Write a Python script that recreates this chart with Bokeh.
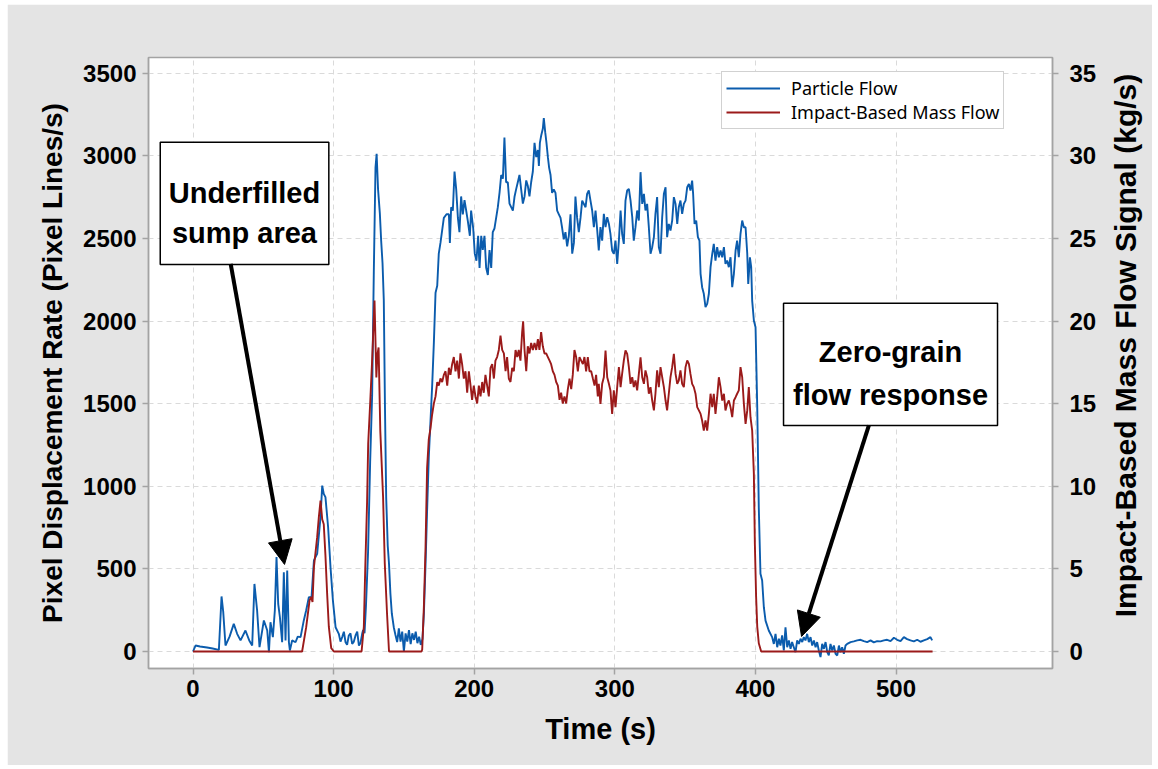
import math
from bokeh.plotting import figure
from bokeh.models import Range1d, LinearAxis, FixedTicker, BoxAnnotation, Arrow, NormalHead, Label, Spacer
from bokeh.layouts import column, row
from bokeh.embed import file_html
from bokeh.resources import INLINE

# ---------------- data ----------------
particle_t = [
    0, 1.8, 5, 10, 14, 18.4, 20.3, 21.5, 23.1, 26, 29.0, 31.4, 33.8, 37.3, 40, 42.1, 43.7, 45.6, 47.3,
    50.4, 52.8, 54.0, 55.1, 56.8, 58.2, 59.4, 60.6, 61.8, 63.4, 64.6, 65.8, 67.0, 68.2, 68.9, 70.5,
    72.9, 74.5, 76.5, 78.8, 80.5, 82.4, 84.3, 86.0, 88.3, 90.7, 91.9, 93.0, 94.2, 96.1, 97.8, 99.5,
    101.4, 103.7, 104.9, 106.1, 107.3, 108.5, 109.6, 110.8, 112.0, 113.2, 114.4, 115.6, 116.8, 118.0,
    119.1, 120.3, 121.0, 122.0,
    123.0, 124.5, 126.0, 127.4, 128.6, 129.8, 130.6, 131.6, 132.9, 133.8, 134.8, 135.7, 136.5, 137.4,
    138.5, 139.4, 140.4, 141.4, 142.8, 144.0, 145.2, 146.4, 147.6, 148.8, 150.0, 151.2, 152.4, 153.6,
    154.8, 156.0, 157.2, 158.4, 159.6, 160.8, 162.0, 163.2,
    164.2, 165.4, 166.5, 167.7, 168.9, 170.1, 171.3, 172.5, 173.7, 174.8, 176.0, 178.4, 180.3, 182.0,
    182.7, 183.6, 184.8, 186.0, 187.2, 188.4, 189.5, 190.7, 191.9, 193.1, 194.3, 195.5, 196.9, 197.8,
    199.3, 200.4, 201.6, 202.8, 203.8, 205.0, 206.1, 207.3, 208.5, 209.7, 210.9, 212.1, 213.2, 214.4,
    215.6, 216.8, 218.0, 219.2, 220.4, 221.5, 222.7, 223.9, 225.1, 226.3, 227.5, 228.7, 229.8, 231.0,
    232.2, 233.4, 234.6, 235.8, 237.0, 238.1, 239.3, 240.5, 241.7, 242.9, 244.1, 245.3, 246.0, 246.7,
    247.6, 248.8, 249.5, 250.5, 251.4, 252.4, 253.3, 254.3, 255.4, 256.6, 257.8, 259.0, 260.2, 261.4,
    262.6, 263.7, 264.9, 266.1, 267.3, 268.5, 269.7, 270.9, 272.0, 273.2, 274.4, 275.6,
    276.8, 279.2, 280.3, 281.5, 282.7, 283.9, 285.1, 286.3, 287.5, 288.6, 289.8, 291.0, 292.2, 293.4,
    294.6, 295.8, 296.9, 298.1, 299.3, 300.5, 301.7, 302.9, 304.1, 305.2, 306.4, 307.6, 308.8, 310.0,
    311.2, 312.4, 313.5, 314.7, 315.9, 317.1, 318.3, 319.5, 320.7, 321.8, 323.0, 324.2, 325.4, 326.6,
    327.8, 328.9, 330.1, 331.3, 332.5, 333.7, 334.9, 336.1, 337.2, 338.4, 339.6, 340.8, 342.0, 343.2,
    344.4, 345.5, 346.7, 347.9, 349.1, 350.3, 351.5, 352.7, 353.8, 355.0, 355.7, 356.7, 357.9, 359.1,
    360.2, 361.0, 362.1, 363.3, 364.5, 365.7, 366.9, 368.1, 369.3, 370.4, 371.6, 372.8, 374.0, 375.2,
    376.4, 377.6, 378.7, 379.9, 381.1, 382.3, 383.5, 384.7, 385.9, 387.0, 388.2, 389.4, 390.6, 391.8,
    393.0, 394.2, 394.9, 396.1, 397.0, 397.7, 398.9, 400.1, 401.3, 402.4, 403.6, 404.8, 406.0, 407.2,
    409.5,
    411.9, 413.1, 414.3, 415.5, 416.7, 417.8, 419.0, 420.2, 421.4, 422.6, 423.8, 425.0, 426.1, 427.3,
    428.5, 429.7, 430.9, 432.1, 433.3, 434.4, 435.6, 436.8, 438.0, 439.2, 440.4, 441.6, 442.8, 443.9,
    445.1, 446.3, 447.5, 448.7, 449.9, 451.1, 452.2, 453.4, 454.6, 455.8, 457.0, 458.2, 459.4, 460.5,
    461.7, 462.9, 464.1, 465.3, 467.7, 470.0, 472.4, 474.8, 477.1, 479.5, 481.9, 484.2, 486.6, 489.0,
    491.4, 493.7, 496.1, 498.5, 500.8, 503.2, 505.6, 507.9, 510.3, 512.7, 515.1, 517.4, 519.8, 522.2,
    524.5, 525.7,
]
particle_rate = [
    0, 36, 30, 24, 18, 10, 333, 240, 36, 90, 167, 107, 67, 127, 67, 36, 409, 248, 26,
    188, 127, -4, 177, 87, 248, 571, 288, 208, 56, 480, 67, 490, 56, 6, 67,
    56, 90, 87, 188, 250, 329, 329, 551, 591, 813, 1004, 954, 934, 752, 510, 309,
    147, 107, 60, 87, 120, 56, 40, 97, 110, 46, 60, 97, 120, 36,
    50, 107, 130, 111,
    272, 600, 1150, 1550, 2300, 2931, 3012, 2800, 2650, 2490, 2350, 2124, 1500, 932,
    640, 532, 350, 230, 147, 100, 57, 140, 60, 120, 0, 110, 60, 130,
    45, 110, 70, 120, 50, 90, 40, 75,
    227, 529, 853, 1177, 1393, 1609, 1868, 2171, 2214, 2408, 2473, 2624, 2646, 2646,
    2473, 2689, 2668, 2905, 2797, 2624, 2538, 2754, 2646, 2732, 2668, 2603, 2516, 2668,
    2560, 2408, 2365, 2516, 2322, 2516, 2430, 2516, 2322, 2279, 2430, 2322, 2538, 2560,
    2624, 2689, 2776, 2884, 2862, 3110, 2840, 2840, 2711, 2689, 2668, 2754, 2797, 2840,
    2884, 2797, 2711, 2754, 2851, 2819, 2754, 2840, 2905, 3078, 2992, 3035, 2938, 3078,
    3121, 3164, 3229, 3143, 3078, 2992, 2927, 2884, 2776, 2797, 2776, 2668, 2646, 2624,
    2560, 2495, 2538, 2452, 2516, 2646, 2408, 2473, 2754, 2624, 2538, 2624,
    2729, 2689, 2770, 2790, 2729, 2669, 2568, 2669, 2548, 2427, 2568, 2487, 2649, 2568,
    2629, 2588, 2528, 2427, 2407, 2487, 2346, 2487, 2669, 2528, 2467, 2729, 2790, 2800,
    2729, 2629, 2487, 2568, 2669, 2608, 2901, 2709, 2770, 2669, 2709, 2568, 2407, 2447,
    2508, 2649, 2750, 2447, 2407, 2629, 2770, 2810, 2508, 2588, 2548, 2608, 2750, 2709,
    2588, 2689, 2729, 2649, 2709, 2729, 2810, 2830, 2790, 2850, 2770, 2588, 2608, 2508,
    2487, 2286, 2205, 2165, 2084, 2104, 2165, 2326, 2407, 2467, 2366, 2447, 2386, 2427,
    2386, 2447, 2346, 2366, 2326, 2386, 2205, 2286, 2427, 2487, 2386, 2528, 2608, 2568,
    2568, 2407, 2225, 2386, 2326, 2124, 2003, 1963, 1479, 873, 470, 430, 268, 187,
    127,
    87, 46, 107, 26, 77, 36, 97, 6, 147, 26, 67, 16, 57, 26,
    -4, 67, 46, 77, 57, 87, 67, 107, 57, 87, 36, 67, 26, 57,
    6, -34, 46, 16, 57, -4, -24, 46, 6, 36, -14, -24, 36, -4,
    26, -14, 36, 46, 57, 61, 67, 71, 63, 57, 67, 55, 63, 61,
    67, 71, 63, 83, 71, 63, 87, 75, 67, 61, 71, 59, 67, 75,
    87, 67,
]

mass_t = [
    0, 77.6, 80.5, 82.9, 84.0, 85.0, 86.0, 88.3, 89.5, 90.7, 91.9, 93.0, 94.2, 95.4, 96.6, 98.3, 100.2,
    119.9, 121.5, 122.5, 123.8, 124.6, 126.0, 127.3, 129.1, 130.4, 131.2, 132.0, 133.2, 135.2, 136.4,
    138.0, 139.4, 162.5,
    163.0, 164.2, 165.4, 166.5, 167.7, 168.9, 170.1, 171.3, 172.5, 173.7, 174.8, 176.0, 177.2, 178.4,
    179.6, 180.8, 182.0, 183.1, 184.3, 185.5, 186.7, 187.9, 189.1, 190.2, 191.4, 192.6, 193.8, 195.0,
    196.2, 197.4, 198.5, 199.7, 200.9, 202.1, 203.3, 204.5, 205.7, 206.8, 208.0, 209.2, 210.4, 211.6,
    212.8, 214.0, 215.1, 216.3, 217.5, 218.7, 219.9, 221.1, 222.3, 223.4, 224.6, 225.8, 227.0, 228.2,
    229.4, 230.6, 231.7, 232.9, 234.1, 234.8, 235.8, 237.0, 238.1, 239.3, 240.5, 241.7, 242.9, 244.1,
    245.3, 246.4, 247.6, 248.8, 250.0, 251.2, 252.4, 253.6, 254.7, 255.9, 257.1, 258.3, 259.5, 260.7,
    261.8, 263.0, 264.2, 265.4, 266.6, 267.8, 269.0, 270.1, 271.3, 272.5, 273.7, 274.9, 276.1, 277.3,
    278.4, 279.6, 280.8, 282.0, 283.2, 284.4, 285.6, 286.7, 287.9,
    288.6, 289.8, 291.0, 292.2, 293.4, 294.6, 295.8, 296.9, 298.1, 299.3, 300.5, 301.7, 302.9, 304.1,
    305.2, 306.4, 307.6, 308.8, 310.0, 311.2, 312.4, 313.5, 314.7, 315.9, 317.1, 318.3, 319.5, 320.7,
    321.8, 323.0, 324.2, 325.4, 326.6, 327.8, 328.9, 330.1, 331.3, 332.5, 333.7, 334.9, 336.1, 337.2,
    338.4, 339.6, 340.8, 342.0, 343.2, 344.4, 345.5, 346.7, 347.9, 349.1, 350.3, 351.5, 352.7, 353.8,
    355.0, 356.2, 357.4, 358.6, 359.8, 361.0, 362.1, 363.3, 364.5, 365.7, 366.9, 368.1, 369.3, 370.4,
    371.6, 372.8, 374.0, 375.2, 376.4, 377.6, 378.7, 379.9, 381.1, 382.3, 383.5, 384.7, 385.9, 387.0,
    388.2, 389.4, 390.6, 391.8, 393.0, 394.2, 395.3, 396.5, 397.7, 398.9, 399.6, 400.5, 401.3, 402.4,
    404.1, 526.0,
]
mass_flow = [
    0, 0, 1.47, 3.09, 3.30, 3.00, 5.10, 6.92, 8.13, 9.14, 8.00, 7.70, 5.80, 3.50, 1.50, 0.20, 0,
    0, 1.50, 5.00, 9.00, 12.59, 15.00, 17.43, 21.24, 16.58, 18.00, 18.40, 13.37, 9.32, 5.32,
    2.30, 0, 0,
    0.11, 2.70, 6.37, 11.12, 12.85, 13.50, 14.36, 15.01, 15.44, 16.31, 16.09, 16.52, 16.31, 16.74,
    16.96, 16.09, 17.17, 16.74, 17.39, 17.82, 16.96, 17.60, 16.52, 18.04, 17.39, 16.52, 16.96, 15.66,
    16.96, 16.09, 15.23, 16.09, 15.44, 15.01, 16.09, 15.44, 16.31, 15.66, 16.74, 16.09, 15.44, 17.17,
    17.39, 16.52, 17.60, 17.82, 18.25, 19.12, 18.25, 18.04, 16.96, 17.82, 16.52, 16.31, 17.17, 16.96,
    18.25, 17.82, 18.25, 17.60, 19.33, 19.98, 18.25, 16.96, 18.47, 18.04, 18.68, 18.25, 18.68, 18.25,
    18.90, 18.25, 19.33, 18.47, 18.04, 18.04, 17.82, 17.60, 17.39, 16.96, 16.74, 16.31, 16.09, 15.23,
    15.66, 15.01, 15.44, 15.01, 15.88, 16.52, 15.88, 16.74, 18.25, 17.82, 16.96, 17.82, 17.60, 17.39,
    17.82, 16.96, 17.82, 16.96, 16.96, 16.52, 16.09, 16.74, 15.44,
    16.20, 14.99, 16.20, 16.60, 18.22, 16.60, 16.20, 15.80, 14.38, 15.80, 14.79, 16.00, 17.21, 16.00,
    16.80, 17.61, 18.22, 18.01, 17.21, 16.20, 16.60, 16.00, 16.40, 15.80, 16.80, 17.81, 16.60, 16.20,
    17.01, 16.60, 15.60, 16.00, 15.19, 14.59, 15.60, 17.01, 16.00, 17.21, 16.60, 16.00, 15.19, 14.59,
    15.60, 16.60, 17.21, 18.01, 16.80, 16.20, 16.40, 17.01, 16.20, 16.00, 17.21, 17.61, 17.41, 16.80,
    16.20, 16.00, 15.60, 14.79, 14.59, 14.38, 13.98, 13.37, 13.98, 13.37, 14.38, 15.60, 14.79, 15.60,
    14.38, 15.39, 16.60, 16.00, 15.19, 15.60, 14.59, 14.99, 15.19, 14.79, 14.18, 15.19, 15.39, 15.60,
    15.80, 17.21, 16.60, 14.99, 13.78, 14.59, 16.00, 14.18, 13.37, 10.75, 6.54, 3.31, 1.51, 0.50,
    0, 0,
]

x_ticks = [0, 100, 200, 300, 400, 500]
left_ticks = [0, 500, 1000, 1500, 2000, 2500, 3000, 3500]
right_ticks = [0, 5, 10, 15, 20, 25, 30, 35]

series_names = ["Particle Flow", "Impact-Based Mass Flow"]
x_title = "Time (s)"
left_title = "Pixel Displacement Rate (Pixel Lines/s)"
right_title = "Impact-Based Mass Flow Signal (kg/s)"

# annotation geometry (data units of the left axis)
box1 = dict(left=-23.3, right=96.6, bottom=2342, top=3082)
box1_lines = [("Underfilled", 36.6, 2774), ("sump area", 36.6, 2530)]
arrow1 = dict(x_start=26.8, y_start=2346, x_end=65.1, y_end=527)
box2 = dict(left=420.0, right=572.2, bottom=1368, top=2108)
box2_lines = [("Zero-grain", 496.1, 1810), ("flow response", 496.1, 1555)]
arrow2 = dict(x_start=480.7, y_start=1368, x_end=432.8, y_end=91)
right_title_pos = (663.2, 1852)

# ---------------- styling ----------------
BG = "#e4e4e4"
BLUE = "#0b5cad"
RED = "#9b1a1a"
FRAME = "#a3a3a3"
GRID = "#dadada"
BOLD_FONT = "Liberation Sans"

p = figure(width=1145, height=761, output_backend="svg", toolbar_location=None,
           x_range=Range1d(-31.65, 611.3), y_range=Range1d(-102.9, 3595),
           min_border_left=141, min_border_right=100, min_border_top=53, min_border_bottom=97,
           background_fill_color="white", border_fill_color=BG,
           outline_line_color=FRAME, outline_line_width=1.5)
p.extra_y_ranges = {"mass": Range1d(-1.029, 35.95)}

right_axis = LinearAxis(y_range_name="mass")
p.add_layout(right_axis, "right")

p.xaxis.ticker = FixedTicker(ticks=x_ticks)
p.yaxis[0].ticker = FixedTicker(ticks=left_ticks)
right_axis.ticker = FixedTicker(ticks=right_ticks)

for ax in [p.xaxis[0], p.yaxis[0], right_axis]:
    ax.axis_line_color = FRAME
    ax.axis_line_width = 1.5
    ax.major_tick_line_color = FRAME
    ax.major_tick_line_width = 1.5
    ax.major_tick_out = 6
    ax.major_tick_in = 0
    ax.minor_tick_line_color = None
    ax.major_label_text_font = BOLD_FONT
    ax.major_label_text_font_style = "bold"
    ax.major_label_text_font_size = "24px"
    ax.major_label_text_color = "black"
    ax.axis_label_text_font = BOLD_FONT
    ax.axis_label_text_font_style = "bold"
    ax.axis_label_text_color = "black"

p.xaxis[0].axis_label = x_title
p.xaxis[0].axis_label_text_font_size = "29px"
p.xaxis[0].major_label_standoff = 5
p.xaxis[0].axis_label_standoff = 13

p.yaxis[0].axis_label = left_title
p.yaxis[0].axis_label_text_font_size = "28px"
p.yaxis[0].major_label_standoff = 6
p.yaxis[0].axis_label_standoff = 12

right_axis.major_label_standoff = 11

# right-hand title, reading bottom-to-top like the left one (placed in the right side panel so it is not clipped)
p.add_layout(Label(x=right_title_pos[0], y=right_title_pos[1], text=right_title, angle=math.pi / 2,
                   text_align="center", text_baseline="middle", text_font=BOLD_FONT,
                   text_font_style="bold", text_font_size="30px", text_color="black"), "right")

p.xgrid.ticker = FixedTicker(ticks=x_ticks)
p.ygrid.ticker = FixedTicker(ticks=left_ticks)
for g in [p.xgrid[0], p.ygrid[0]]:
    g.grid_line_color = GRID
    g.grid_line_dash = "5 4"
    g.grid_line_width = 1

p.line(particle_t, particle_rate, line_color=BLUE, line_width=1.9, legend_label=series_names[0])
p.line(mass_t, mass_flow, y_range_name="mass", line_color=RED, line_width=1.9, legend_label=series_names[1])

lg = p.legend[0]
lg.location = (573, 539)
lg.border_line_color = FRAME
lg.border_line_width = 1.5
lg.background_fill_color = "white"
lg.background_fill_alpha = 1
lg.label_text_font = "Noto Sans"
lg.label_text_font_size = "18px"
lg.label_text_color = "black"
lg.glyph_width = 54
lg.glyph_height = 20
lg.label_height = 20
lg.label_standoff = 11
lg.padding = 4
lg.spacing = 0
lg.margin = 0

for box, lines, arr in [(box1, box1_lines, arrow1), (box2, box2_lines, arrow2)]:
    p.add_layout(BoxAnnotation(fill_color="white", fill_alpha=1, line_color="black",
                               line_width=1.5, line_alpha=1, **box))
    for txt, tx, ty in lines:
        p.add_layout(Label(x=tx, y=ty, text=txt, text_align="center", text_baseline="alphabetic",
                           text_font=BOLD_FONT, text_font_style="bold", text_font_size="29px",
                           text_color="black"))
    p.add_layout(Arrow(end=NormalHead(size=24, fill_color="black", line_color="black"),
                       line_color="black", line_width=4, **arr))

layout = column(Spacer(height=4), row(Spacer(width=7), p))
open("out.html", "w").write(file_html(layout, INLINE))
